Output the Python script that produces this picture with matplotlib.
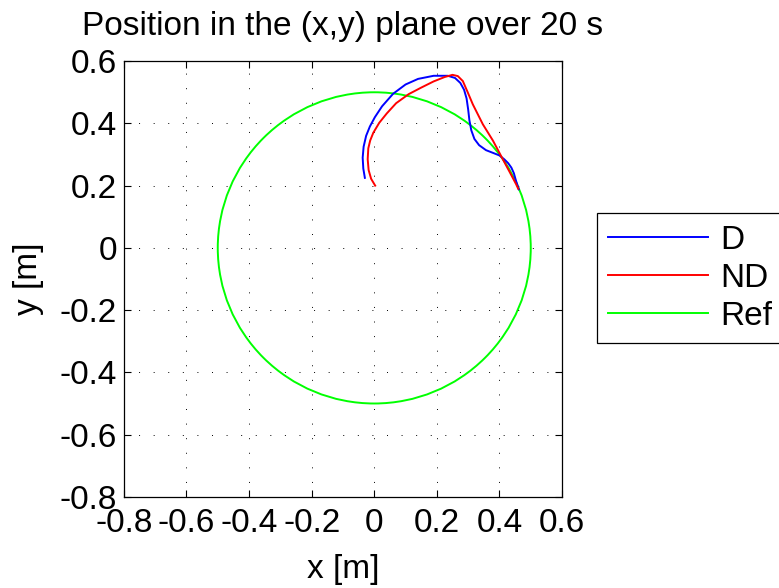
import numpy as np
import matplotlib.pyplot as plt
from matplotlib.lines import Line2D
from matplotlib.patches import Circle

# trajectory samples in the (x, y) plane [m]
d_x = [-0.030, -0.035, -0.037, -0.034, -0.026, -0.014, 0.002, 0.025, 0.060, 0.100, 0.140,
       0.190, 0.235, 0.258, 0.275, 0.287, 0.295, 0.300, 0.304, 0.310, 0.320, 0.335, 0.357,
       0.380, 0.400, 0.415, 0.428, 0.438, 0.446, 0.453, 0.462]
d_y = [0.225, 0.255, 0.290, 0.325, 0.360, 0.390, 0.420, 0.455, 0.495, 0.525, 0.543,
       0.553, 0.553, 0.546, 0.530, 0.508, 0.480, 0.445, 0.410, 0.378, 0.350, 0.330, 0.314,
       0.305, 0.297, 0.285, 0.272, 0.258, 0.240, 0.215, 0.188]

nd_x = [0.003, -0.010, -0.018, -0.021, -0.019, -0.013, -0.003, 0.016, 0.040, 0.070,
        0.110, 0.150, 0.190, 0.225, 0.250, 0.267, 0.283, 0.299, 0.315, 0.347, 0.379,
        0.408, 0.432, 0.453, 0.460]
nd_y = [0.200, 0.222, 0.250, 0.285, 0.320, 0.345, 0.370, 0.402, 0.432, 0.465,
        0.494, 0.515, 0.535, 0.549, 0.556, 0.552, 0.536, 0.499, 0.461, 0.397, 0.345,
        0.290, 0.245, 0.205, 0.190]

ref_center = (0.0, 0.0)
ref_radius = 0.5

ticks = [-0.8, -0.6, -0.4, -0.2, 0, 0.2, 0.4, 0.6]
tick_labels = ["-0.8", "-0.6", "-0.4", "-0.2", "0", "0.2", "0.4", "0.6"]

plt.rcParams["font.family"] = ["Liberation Sans", "DejaVu Sans"]
plt.rcParams["axes.unicode_minus"] = False
fs = 24

fig = plt.figure(figsize=(7.79, 5.88), dpi=100)
ax = fig.add_axes([0.159, 0.155, 0.5625, 0.741])

ax.plot(d_x, d_y, color=(0, 0, 1), lw=1.4)
ax.plot(nd_x, nd_y, color=(1, 0, 0), lw=1.4)
ax.add_patch(Circle(ref_center, ref_radius, fill=False, ec=(0, 1, 0), lw=1.4))

ax.set_xlim(-0.8, 0.6)
ax.set_ylim(-0.8, 0.6)
ax.set_xticks(ticks)
ax.set_xticklabels(tick_labels)
ax.set_yticks(ticks)
ax.set_yticklabels(tick_labels)
ax.tick_params(direction="in", length=5, width=0.8, top=True, right=True,
               labelsize=fs)
ax.tick_params(axis="x", pad=8)
ax.tick_params(axis="y", pad=5)
ax.grid(True, color="black", lw=0.7, linestyle=(0, (1, 14)))
for s in ax.spines.values():
    s.set_linewidth(0.9)

ax.set_title("Position in the (x,y) plane over 20 s", fontsize=fs, pad=19)
ax.set_xlabel("x [m]", fontsize=fs, labelpad=11)
ax.set_ylabel("y [m]", fontsize=fs, labelpad=11)

handles = [Line2D([], [], color=(0, 0, 1), lw=1.4),
           Line2D([], [], color=(1, 0, 0), lw=1.4),
           Line2D([], [], color=(0, 1, 0), lw=1.4)]
leg = fig.legend(handles, ["D", "ND", "Ref"], loc="upper left",
                 bbox_to_anchor=(0.766, 0.638), borderaxespad=0, fontsize=fs,
                 handlelength=3.0, handletextpad=0.36, labelspacing=0.21,
                 borderpad=0.35, fancybox=False, framealpha=1, edgecolor="black")
leg.get_frame().set_linewidth(0.9)

fig.savefig("out.png", dpi=100)
